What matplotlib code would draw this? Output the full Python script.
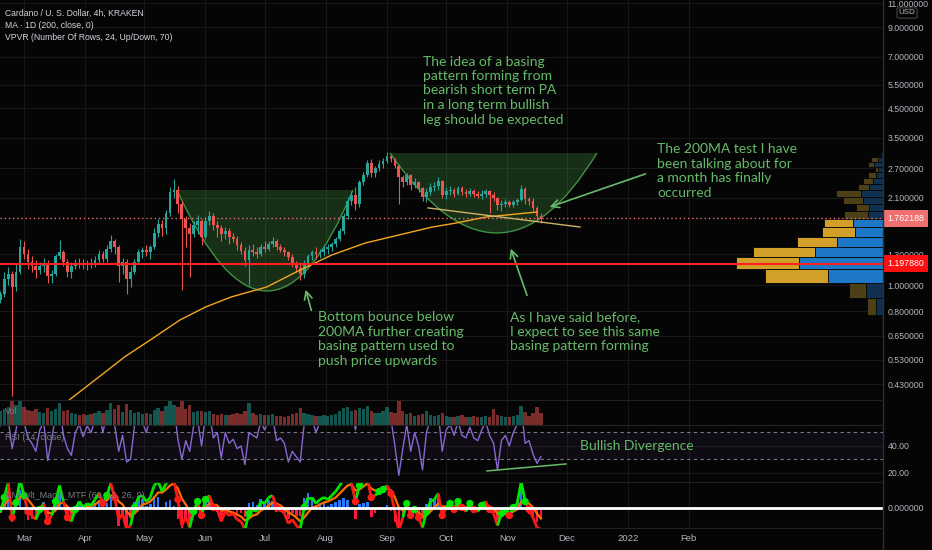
import matplotlib
matplotlib.use("Agg")
import matplotlib.pyplot as plt
import matplotlib.dates as mdates
import matplotlib.transforms as mtransforms
from matplotlib.path import Path
from matplotlib.patches import PathPatch
from matplotlib.lines import Line2D
from matplotlib.collections import LineCollection
import numpy as np
import pandas as pd

# ---- data (2-day candles, ADA/USD Kraken) ----
candle_start = "2021-02-17"
opens = [0.88, 0.93, 1.05, 1.10, 0.98, 1.12, 1.38, 1.30, 1.22, 1.18,
         1.14, 1.18, 1.20, 1.08, 1.10, 1.28, 1.32, 1.22, 1.12, 1.18,
         1.21, 1.20, 1.19, 1.21, 1.20, 1.24, 1.30, 1.25, 1.36, 1.45,
         1.38, 1.18, 1.22, 1.05, 1.12, 1.22, 1.32, 1.35, 1.32, 1.38,
         1.56, 1.68, 1.62, 1.85, 2.20, 2.25, 2.00, 1.75, 1.62, 1.55,
         1.66, 1.72, 1.50, 1.72, 1.80, 1.66, 1.62, 1.55, 1.58, 1.50,
         1.48, 1.40, 1.34, 1.24, 1.35, 1.32, 1.30, 1.38, 1.36, 1.42,
         1.45, 1.38, 1.35, 1.32, 1.27, 1.20, 1.16, 1.10, 1.20, 1.28,
         1.32, 1.30, 1.33, 1.36, 1.38, 1.42, 1.48, 1.58, 1.80, 2.05,
         2.15, 2.00, 2.40, 2.55, 2.82, 2.60, 2.70, 2.80, 2.88, 3.00,
         2.92, 2.75, 2.50, 2.40, 2.55, 2.35, 2.40, 2.28, 2.12, 2.20,
         2.30, 2.32, 2.42, 2.15, 2.22, 2.25, 2.18, 2.28, 2.20, 2.18,
         2.22, 2.17, 2.14, 2.18, 2.22, 2.15, 2.10, 1.98, 2.00, 2.02,
         1.98, 2.02, 2.06, 2.26, 2.08, 2.05, 1.92, 1.80]
highs = [0.95, 1.12, 1.17, 1.13, 1.20, 1.48, 1.45, 1.36, 1.28, 1.24,
         1.22, 1.26, 1.24, 1.14, 1.30, 1.47, 1.35, 1.25, 1.22, 1.25,
         1.26, 1.25, 1.24, 1.26, 1.28, 1.35, 1.34, 1.40, 1.53, 1.48,
         1.40, 1.26, 1.25, 1.18, 1.25, 1.36, 1.38, 1.40, 1.40, 1.62,
         1.75, 1.74, 1.90, 2.30, 2.46, 2.32, 2.05, 1.80, 1.70, 1.72,
         1.82, 1.76, 1.78, 1.88, 1.85, 1.72, 1.66, 1.64, 1.62, 1.56,
         1.52, 1.44, 1.38, 1.40, 1.42, 1.38, 1.42, 1.45, 1.46, 1.50,
         1.48, 1.42, 1.38, 1.34, 1.30, 1.23, 1.20, 1.24, 1.30, 1.35,
         1.38, 1.36, 1.40, 1.42, 1.44, 1.50, 1.62, 1.85, 2.12, 2.22,
         2.30, 2.45, 2.62, 2.90, 2.92, 2.75, 2.90, 2.95, 3.10, 3.05,
         2.95, 2.80, 2.56, 2.60, 2.58, 2.48, 2.42, 2.30, 2.28, 2.38,
         2.40, 2.50, 2.45, 2.30, 2.32, 2.28, 2.32, 2.32, 2.26, 2.28,
         2.26, 2.22, 2.24, 2.26, 2.24, 2.20, 2.12, 2.06, 2.08, 2.06,
         2.06, 2.10, 2.34, 2.30, 2.12, 2.10, 1.96, 1.84]
lows = [0.86, 0.90, 1.00, 0.39, 0.95, 1.10, 1.25, 1.15, 1.12, 1.06,
        1.10, 1.12, 1.02, 1.02, 1.08, 1.25, 1.18, 1.07, 1.06, 1.15,
        1.16, 1.15, 1.14, 1.16, 1.17, 1.20, 1.22, 1.22, 1.33, 1.30,
        1.03, 1.10, 0.93, 0.98, 1.10, 1.20, 1.26, 1.28, 1.25, 1.36,
        1.50, 1.52, 1.55, 1.80, 2.10, 1.85, 0.96, 1.38, 1.07, 1.50,
        1.55, 1.40, 1.48, 1.66, 1.60, 1.50, 1.45, 1.48, 1.42, 1.44,
        1.35, 1.30, 1.18, 1.00, 1.28, 1.26, 1.28, 1.32, 1.34, 1.38,
        1.35, 1.32, 1.28, 1.24, 1.17, 1.12, 1.04, 1.06, 1.18, 1.24,
        1.25, 1.26, 1.28, 1.30, 1.34, 1.38, 1.45, 1.55, 1.76, 1.98,
        1.90, 1.95, 2.35, 2.50, 2.50, 2.50, 2.65, 2.70, 2.82, 2.85,
        2.70, 2.00, 2.30, 2.35, 2.25, 2.28, 2.20, 2.05, 2.02, 2.15,
        2.22, 2.25, 2.10, 2.08, 2.15, 2.12, 2.15, 2.15, 2.12, 2.14,
        2.12, 2.10, 2.08, 2.12, 1.85, 2.05, 1.90, 1.88, 1.95, 1.94,
        1.94, 1.98, 2.04, 2.00, 1.98, 1.88, 1.72, 1.70]
closes = [0.93, 1.05, 1.10, 0.98, 1.12, 1.38, 1.30, 1.22, 1.18, 1.14,
          1.18, 1.20, 1.08, 1.10, 1.28, 1.32, 1.22, 1.12, 1.18, 1.21,
          1.20, 1.19, 1.21, 1.20, 1.24, 1.30, 1.25, 1.36, 1.45, 1.38,
          1.18, 1.22, 1.05, 1.12, 1.22, 1.32, 1.35, 1.32, 1.38, 1.56,
          1.68, 1.62, 1.85, 2.20, 2.25, 2.00, 1.75, 1.62, 1.55, 1.66,
          1.72, 1.50, 1.72, 1.80, 1.66, 1.62, 1.55, 1.58, 1.50, 1.48,
          1.40, 1.34, 1.24, 1.35, 1.32, 1.30, 1.38, 1.36, 1.42, 1.45,
          1.38, 1.35, 1.32, 1.27, 1.20, 1.16, 1.10, 1.20, 1.28, 1.32,
          1.30, 1.33, 1.36, 1.38, 1.42, 1.48, 1.58, 1.80, 2.05, 2.15,
          2.00, 2.40, 2.55, 2.82, 2.60, 2.70, 2.80, 2.88, 3.00, 2.92,
          2.75, 2.50, 2.40, 2.55, 2.35, 2.40, 2.28, 2.12, 2.20, 2.30,
          2.32, 2.42, 2.15, 2.22, 2.25, 2.18, 2.28, 2.20, 2.18, 2.22,
          2.17, 2.14, 2.18, 2.22, 2.15, 2.10, 1.98, 2.00, 2.02, 1.98,
          2.02, 2.06, 2.26, 2.08, 2.05, 1.92, 1.80, 1.76]
volumes = [14, 16, 18, 27, 20, 24,
           18, 15, 14, 16, 13, 12, 17, 14,
           16, 22, 14, 15, 12, 11, 10, 11, 10, 11, 12,
           14, 12, 15, 22, 16, 20, 13, 21, 15, 12, 13, 11, 12, 11,
           15, 17, 14, 19, 24, 20, 18, 27, 16, 20, 13, 14,
           14, 13, 14, 11, 10, 11, 10, 10, 11, 12, 11, 14, 22,
           12, 10, 11, 10, 10, 11, 9, 9, 8, 9, 11, 12, 17,
           12, 11, 10, 9, 9, 10, 9, 10, 11, 14, 17, 18, 14, 15,
           17, 16, 19, 14, 12, 12, 14, 18, 13, 12, 26,
           14, 11, 12, 9, 10, 11, 14, 10, 9, 10, 12,
           9, 8, 8, 9, 10, 8, 8, 9, 8, 8, 9, 8, 16,
           10, 9, 8, 8, 9, 10, 19, 13, 9, 12, 18, 12]
rsi = [55, 68, 60, 38, 52, 74, 58, 46, 42, 36,
       52, 58, 29, 45, 62, 70, 48, 38, 33, 50,
       56, 47, 55, 50, 60, 66, 50, 64, 72, 55,
       36, 48, 28, 30, 55, 64, 58, 50, 62, 72,
       68, 55, 70, 76, 70, 45, 30, 44, 36, 55,
       60, 40, 62, 64, 46, 50, 31, 50, 42, 45,
       38, 40, 26, 50, 48, 46, 58, 52, 60, 62,
       44, 46, 42, 28, 36, 32, 28, 56, 64, 60,
       50, 58, 62, 60, 66, 70, 76, 80, 82, 70,
       52, 74, 78, 80, 55, 62, 66, 68, 72, 60,
       40, 18, 38, 56, 36, 50, 40, 22, 50, 60,
       58, 64, 36, 52, 56, 48, 58, 48, 46, 54,
       46, 44, 52, 58, 48, 42, 22, 44, 48, 40,
       50, 56, 70, 42, 44, 34, 27, 32]
# MACD values in thousandths
macd_line = [-5, 10, 25, -10, 5, 28, 12, -4, -8, -12,
             -2, 4, -14, -8, 6, 22, 6, -10, -14, -2,
             6, 0, 4, 2, 8, 14, 4, 12, 24, 10,
             -12, -6, -22, -18, 0, 10, 12, 6, 10, 22,
             26, 16, 24, 30, 26, 8, -18, -10, -20, -4,
             6, -8, 8, 12, 0, -2, -14, -4, -8, -6,
             -12, -14, -22, -6, -2, -4, 6, 4, 10, 12,
             0, -2, -6, -16, -12, -18, -22, 0, 10, 10,
             4, 8, 10, 8, 12, 16, 22, 28, 30, 24,
             6, 22, 26, 30, 10, 12, 16, 18, 22, 14,
             -4, -24, -10, 4, -8, -2, -10, -20, -4, 6,
             8, 14, -8, 0, 4, -2, 6, 0, -4, 4,
             -2, -4, 2, 6, -2, -6, -18, -6, -4, -8,
             0, 4, 26, 6, -2, -10, -20, -22]
macd_signal = [0, 2, 8, 4, 3, 10, 12, 8, 3, -2,
               -3, -2, -5, -6, -3, 4, 5, 1, -4, -4,
               -1, -1, 1, 1, 3, 6, 5, 7, 12, 12,
               6, 3, -4, -8, -6, -2, 3, 4, 6, 10,
               15, 15, 18, 22, 24, 19, 9, 3, -4, -4,
               -1, -3, 0, 4, 3, 2, -3, -3, -4, -5,
               -7, -9, -13, -11, -8, -7, -3, -1, 2, 5,
               4, 2, -1, -5, -7, -10, -14, -10, -5, 0,
               1, 3, 5, 6, 8, 10, 14, 18, 22, 23,
               17, 18, 21, 24, 19, 17, 16, 17, 19, 17,
               10, 0, -3, -1, -3, -3, -5, -9, -8, -4,
               0, 4, 1, 1, 2, 1, 2, 2, 0, 1,
               0, -1, 0, 2, 1, -1, -6, -6, -5, -6,
               -4, -2, 6, 6, 4, 0, -6, -11]
macd_hist = [-5, 8, 17, -14, 2, 18, 0, -12, -11, -10,
             1, 6, -9, -2, 9, 18, 1, -11, -10, 2,
             7, 1, 3, 1, 5, 8, -1, 5, 12, -2,
             -18, -9, -18, -10, 6, 12, 9, 2, 4, 12,
             11, 1, 6, 8, 2, -11, -27, -13, -16, 0,
             7, -5, 8, 8, -3, -4, -11, -1, -4, -1,
             -5, -5, -9, 5, 6, 3, 9, 5, 8, 7,
             -4, -4, -5, -11, -5, -8, -8, 10, 15, 10,
             3, 5, 5, 2, 4, 6, 8, 10, 8, 1,
             -11, 4, 5, 6, -9, -5, 0, 1, 3, -3,
             -14, -24, -7, 5, -5, 1, -5, -11, 4, 10,
             8, 10, -9, -1, 2, -3, 4, -2, -4, 3,
             -2, -3, 2, 4, -3, -5, -12, 0, 1, -2,
             4, 6, 20, 0, -6, -10, -14, -11]

# 200-day MA (daily)
ma_dates = ["2021-03-24", "2021-04-08", "2021-04-21", "2021-05-04", "2021-05-19",
            "2021-06-01", "2021-06-14", "2021-07-02", "2021-07-18", "2021-08-04",
            "2021-08-21", "2021-09-07", "2021-09-24", "2021-10-06", "2021-10-21",
            "2021-11-16"]
ma_values = [0.376, 0.457, 0.542, 0.626, 0.742, 0.829, 0.903, 0.983, 1.127, 1.291,
             1.430, 1.531, 1.639, 1.695, 1.784, 1.862]

# volume profile, 24 rows
vp_edges = [0.162, 0.285, 0.407, 0.530, 0.652, 0.775, 0.898, 1.020, 1.143, 1.266,
            1.388, 1.511, 1.633, 1.756, 1.878, 2.001, 2.123, 2.246, 2.368, 2.491,
            2.613, 2.736, 2.859, 2.981, 3.104]
vp_up = [0, 0, 0, 0, 1, 7, 17, 55, 84, 68, 46, 28, 30, 15, 14, 20, 22, 14, 10, 7, 5, 9, 5, 2]
vp_down = [0, 0, 0, 0, 1, 9, 17, 63, 63, 62, 40, 33, 29, 24, 13, 20, 25, 11, 10, 8, 3, 6, 7, 1]
value_area_rows = [7, 8, 9, 10, 11, 12]

last_price = 1.762188
support_level = 1.197880
price_ticks = [0.43, 0.53, 0.65, 0.8, 1.0, 1.3, 2.1, 2.7, 3.5, 4.5, 5.5, 7.0, 9.0, 11.0]
month_ticks = ["2021-03-01", "2021-04-01", "2021-05-01", "2021-06-01", "2021-07-01",
               "2021-08-01", "2021-09-01", "2021-10-01", "2021-11-01", "2021-12-01",
               "2022-01-01", "2022-02-01"]
month_labels = ["Mar", "Apr", "May", "Jun", "Jul", "Aug", "Sep", "Oct", "Nov", "Dec",
                "2022", "Feb"]

# drawings
cup1_dates = ["2021-05-17 12:00", "2021-07-03 05:00", "2021-08-14 19:00"]
cup1_prices = [2.246, 0.402, 2.246]
cup2_dates = ["2021-09-02 12:00", "2021-10-28 07:00", "2021-12-16 10:00"]
cup2_prices = [3.078, 0.788, 3.078]
trend_dates = ["2021-09-21 19:00", "2021-12-07 19:00"]
trend_prices = [1.928, 1.639]
div_dates = ["2021-10-21 17:00", "2021-11-30 17:00"]
div_rsi = [21.3, 26.5]

# ---- style ----
W, H = 932, 550
AX_R = 883
BG = "#050505"
GRID = "#181818"
TXT = "#b2b5be"
UP, DOWN = "#26a69a", "#ef5350"
GREEN = "#66bb6a"
AXFONT = ["Liberation Sans", "DejaVu Sans"]

plt.rcParams["font.family"] = AXFONT

fig = plt.figure(figsize=(W / 100, H / 100), dpi=100, facecolor=BG)


def frame(top, bottom):
    return [0, 1 - bottom / H, AX_R / W, (bottom - top) / H]


ax = fig.add_axes(frame(0, 400))
ax_vol = fig.add_axes(frame(400, 425), sharex=ax)
ax_rsi = fig.add_axes(frame(425, 482), sharex=ax)
ax_macd = fig.add_axes(frame(482, 528), sharex=ax)

dates = pd.date_range(candle_start, periods=len(closes), freq="2D")
o = np.array(opens); h = np.array(highs); l = np.array(lows); c = np.array(closes)
up = c >= o
cols = np.where(up, UP, DOWN)

mt = pd.to_datetime(month_ticks)
x0 = pd.Timestamp("2021-03-01") - pd.Timedelta(days=12.16)
x1 = pd.Timestamp("2021-03-01") + pd.Timedelta(days=435.4)

for a in (ax, ax_vol, ax_rsi, ax_macd):
    a.set_facecolor(BG)
    for s in a.spines.values():
        s.set_visible(False)
    a.tick_params(axis="both", length=0, colors=TXT, labelsize=6.3, pad=3.2)
    a.yaxis.tick_right()

ax.set_xlim(x0, x1)
ax.set_yscale("log")
ax.set_ylim(0.3755, 11.33)
ax.set_yticks(price_ticks)
ax.set_yticklabels([f"{p:.6f}" for p in price_ticks])
ax.yaxis.set_minor_locator(matplotlib.ticker.NullLocator())
for p in price_ticks:
    ax.axhline(p, color=GRID, lw=0.7, zorder=0)
for a in (ax, ax_vol, ax_rsi, ax_macd):
    for m in mt:
        a.axvline(m, color=GRID, lw=0.7, zorder=0)


# cups
def cup(dlist, plist, alpha):
    xs = mdates.date2num(pd.to_datetime(dlist))
    verts = [(xs[0], plist[0]), (xs[1], plist[1]), (xs[2], plist[2]), (xs[0], plist[0])]
    fill = Path(verts, [Path.MOVETO, Path.CURVE3, Path.CURVE3, Path.CLOSEPOLY])
    ax.add_patch(PathPatch(fill, facecolor=(0.30, 0.69, 0.31, alpha), edgecolor="none", zorder=1))
    edge = Path(verts[:3], [Path.MOVETO, Path.CURVE3, Path.CURVE3])
    ax.add_patch(PathPatch(edge, facecolor="none", edgecolor="#4caf50", lw=1.0, alpha=0.8, zorder=2))


cup(cup1_dates, cup1_prices, 0.25)
cup(cup2_dates, cup2_prices, 0.25)

# candles
ax.vlines(dates, l, h, colors=cols, lw=0.8, zorder=3)
ax.bar(dates, np.maximum(np.abs(c - o), 0.004), bottom=np.minimum(o, c), width=1.4,
       color=cols, zorder=3)

ax.plot(pd.to_datetime(ma_dates), ma_values, color="#f5a623", lw=1.0, zorder=4)
ax.plot(pd.to_datetime(trend_dates), trend_prices, color="#cdb36a", lw=1.0, zorder=4)


# arrows
def arrow(tail, head):
    ax.annotate("", xy=(pd.Timestamp(head[0]), head[1]), xytext=(pd.Timestamp(tail[0]), tail[1]),
                arrowprops=dict(arrowstyle="->", color=GREEN, lw=1.2, mutation_scale=14),
                zorder=6)


arrow(("2021-07-25", 0.788), ("2021-07-21 10:00", 0.983))
arrow(("2021-11-11 10:00", 0.895), ("2021-11-02 07:00", 1.394))
arrow(("2022-01-11 07:00", 2.596), ("2021-11-21 02:00", 1.928))

# volume pane
ax_vol.bar(dates, volumes, width=1.7, color=cols, alpha=0.5, linewidth=0)
ax_vol.set_ylim(0, 25)
ax_vol.set_yticks([])
ax_vol.tick_params(labelbottom=False)

# volume profile (right side, overlay)
ax_vp = ax.twiny()
ax_vp.set_xlim(AX_R, 0)
ax_vp.xaxis.set_visible(False)
for s in ax_vp.spines.values():
    s.set_visible(False)
edges = np.array(vp_edges)
rows = np.arange(len(vp_up))
va = np.isin(rows, value_area_rows)
up_col = np.where(va, "#1e78c8", "#10304f")
dn_col = np.where(va, "#d2a028", "#4d4016")
ax_vp.barh(edges[:-1], vp_up, height=np.diff(edges), left=0, align="edge",
           color=up_col, edgecolor=BG, lw=0.6, zorder=2)
ax_vp.barh(edges[:-1], vp_down, height=np.diff(edges), left=vp_up, align="edge",
           color=dn_col, edgecolor=BG, lw=0.6, zorder=2)
ax_vp.axhline(support_level, color="#ff1f1f", lw=1.5, zorder=3)
ax_vp.axhline(last_price, color="#f07070", lw=1.0, ls=(0, (1, 2)), zorder=3)

trans = mtransforms.blended_transform_factory(ax.transAxes, ax.transData)
for val, fc in ((last_price, "#f07070"), (support_level, "#ff1010")):
    ax.text(1.0045, val, f"{val:.6f}", transform=trans, ha="left", va="center", fontsize=6.3,
            color="white", clip_on=False, zorder=10,
            bbox=dict(boxstyle="square,pad=0.45", fc=fc, ec="none"))

# RSI
ax_rsi.axhspan(30, 50.5, color="#7e57c2", alpha=0.08, lw=0)
for lvl in (30, 50.5):
    ax_rsi.axhline(lvl, color="#787b86", lw=0.8, dashes=(3, 3))
for lvl in (20, 40):
    ax_rsi.axhline(lvl, color=GRID, lw=0.7, zorder=0)
ax_rsi.plot(dates, rsi, color="#8a66d0", lw=1.0)
ax_rsi.plot(pd.to_datetime(div_dates), div_rsi, color=GREEN, lw=1.1)
ax_rsi.set_ylim(13, 55.7)
ax_rsi.set_yticks([20, 40])
ax_rsi.set_yticklabels(["20.00", "40.00"])
ax_rsi.tick_params(labelbottom=False)

# MACD
hist = np.array(macd_hist); ml = np.array(macd_line); sg = np.array(macd_signal)
ax_macd.bar(dates, hist, width=1.3, color=np.where(hist >= 0, "#2979ff", "#ff1744"), zorder=2)
xn = mdates.date2num(dates)
ax_macd.plot(dates, sg, color="#ff6d00", lw=1.6, zorder=3)
segs = [[(xn[i], ml[i]), (xn[i + 1], ml[i + 1])] for i in range(len(ml) - 1)]
seg_cols = ["#00e600" if ml[i + 1] >= sg[i + 1] else "#ff1a1a" for i in range(len(ml) - 1)]
ax_macd.add_collection(LineCollection(segs, colors=seg_cols, linewidths=2.0, zorder=4))
sign = np.sign(hist)
cross = np.where(sign[1:] != sign[:-1])[0] + 1
ax_macd.scatter(dates[cross], ml[cross], s=18, zorder=5,
                c=["#00e600" if hist[i] >= 0 else "#ff1a1a" for i in cross])
ax_macd.axhline(0, color="white", lw=2.0, zorder=6)
ax_macd.set_ylim(-20.5, 25.5)
ax_macd.set_yticks([0])
ax_macd.set_yticklabels(["0.000000"])

ax.tick_params(labelbottom=False)
ax_macd.set_xticks(mt)
ax_macd.set_xticklabels(month_labels)
ax_macd.tick_params(axis="x", pad=4.5, labelbottom=True, labelsize=6.8)
ax.set_xlim(x0, x1)

# pane separators
fig.add_artist(Line2D([AX_R / W] * 2, [0, 1], color="#2a2e39", lw=1))
for yy in (400, 425, 482, 528):
    fig.add_artist(Line2D([0, AX_R / W], [1 - yy / H] * 2, color="#222222", lw=0.8))


def px(x, y):
    return x / W, 1 - y / H


fig.text(*px(907, 13), "USD", fontsize=5.8, color=TXT, ha="center", va="center",
         bbox=dict(boxstyle="round,pad=0.2", fc=BG, ec="#555555", lw=0.6))

hdr = dict(fontsize=6.2, color="#d1d4dc", va="center")
fig.text(*px(5, 13), "Cardano / U. S. Dollar, 4h, KRAKEN", **hdr)
fig.text(*px(5, 26), "MA · 1D (200, close, 0)", **hdr)
fig.text(*px(5, 38), "VPVR (Number Of Rows, 24, Up/Down, 70)", **hdr)
lab = dict(fontsize=6.4, color="#787b86", va="center")
fig.text(*px(5, 411), "Vol", **lab)
fig.text(*px(5, 437), "RSI (14, close)", **lab)
fig.text(*px(5, 495), "CM_Ult_MacD_MTF (60, 12, 26, 9)", **lab)

note = dict(fontsize=10, color=GREEN, family=["Lato", "DejaVu Sans"], linespacing=1.25,
            va="center", ha="left")
fig.text(*px(423, 90.5), "The idea of a basing\npattern forming from\nbearish short term PA\n"
         "in a long term bullish\nleg should be expected", **note)
fig.text(*px(657, 171), "The 200MA test I have\nbeen talking about for\na month has finally\noccurred",
         **note)
fig.text(*px(318, 339), "Bottom bounce below\n200MA further creating\nbasing pattern used to\n"
         "push price upwards", **note)
fig.text(*px(510, 331.5), "As I have said before,\nI expect to see this same\nbasing pattern forming",
         **note)
fig.text(*px(580, 446), "Bullish Divergence", **note)

fig.savefig("out.png", dpi=100, facecolor=BG)
